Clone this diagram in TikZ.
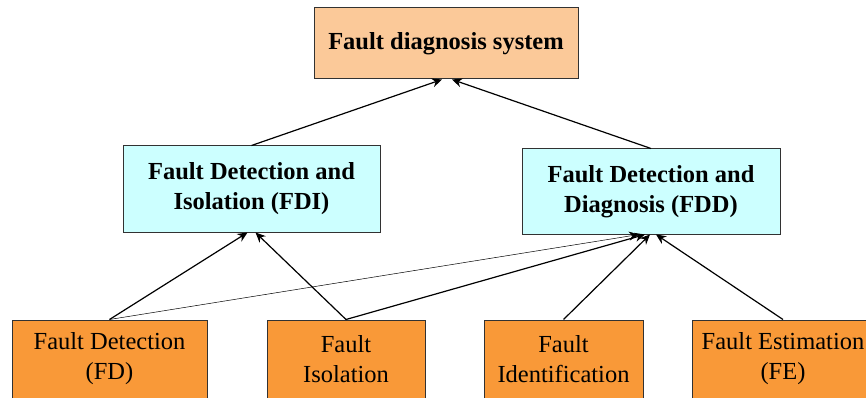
\documentclass[tikz,border=0pt]{standalone}
\usepackage{fontspec}
\setmainfont{Liberation Serif}
\usetikzlibrary{arrows.meta}
\definecolor{topfill}{RGB}{251,201,153}
\definecolor{midfill}{RGB}{204,255,255}
\definecolor{lowfill}{RGB}{249,153,56}
\definecolor{boxline}{RGB}{50,50,50}
\begin{document}
\begin{tikzpicture}[
            x=1pt, y=-1pt,
            box/.style={rectangle,draw=boxline,line width=1pt,align=center,inner sep=0pt,
                font=\fontsize{24.5}{30}\selectfont},
            top-node/.style={box,fill=topfill,font=\fontsize{24.5}{30}\selectfont\bfseries},
            mid-node/.style={box,fill=midfill,font=\fontsize{24.5}{30}\selectfont\bfseries},
            low-node/.style={box,fill=lowfill,minimum height=78pt},
            link/.style={line width=1.2pt,-{Stealth[length=10pt,width=9pt]}},
            thinlink/.style={line width=0.5pt,-{Stealth[length=10pt,width=9pt]}},
        ]
            \path[use as bounding box,clip] (0,0) rectangle (866,398);
            % nodes
            \node[top-node,minimum width=264pt,minimum height=71pt] (fds) at (446,43.5) {Fault diagnosis system};
            \node[mid-node,minimum width=257pt,minimum height=86pt] (fdi) at (251.5,189) {Fault Detection and\\Isolation (FDI)};
            \node[mid-node,minimum width=258pt,minimum height=85pt] (fdd) at (651,191.5) {Fault Detection and\\Diagnosis (FDD)};
            \node[low-node,minimum width=195pt] (fd) at (109.5,359) {Fault Detection\\(FD)};
            \node[low-node,minimum width=158pt] (fiso) at (346,359) {Fault\\Isolation};
            \node[low-node,minimum width=159pt] (fid) at (563.5,359) {Fault\\Identification};
            \node[low-node,minimum width=182pt] (fe) at (783,359) {Fault Estimation\\(FE)};
            % connectors
            \draw[link] (fdi.north) -- ([xshift=-4pt]fds.south);
            \draw[link] (fdd.north) -- ([xshift=6pt]fds.south);
            \draw[link] (fd.north) -- ([xshift=-4pt]fdi.south);
            \draw[link] (fiso.north) -- ([xshift=4pt]fdi.south);
            \draw[thinlink] (fd.north) -- ([xshift=-12pt]fdd.south);
            \draw[link] (fiso.north) -- ([xshift=-6pt]fdd.south);
            \draw[link] (fid.north) -- ([xshift=-1pt]fdd.south);
            \draw[link] (fe.north) -- ([xshift=5pt]fdd.south);
        \end{tikzpicture}
\end{document}
